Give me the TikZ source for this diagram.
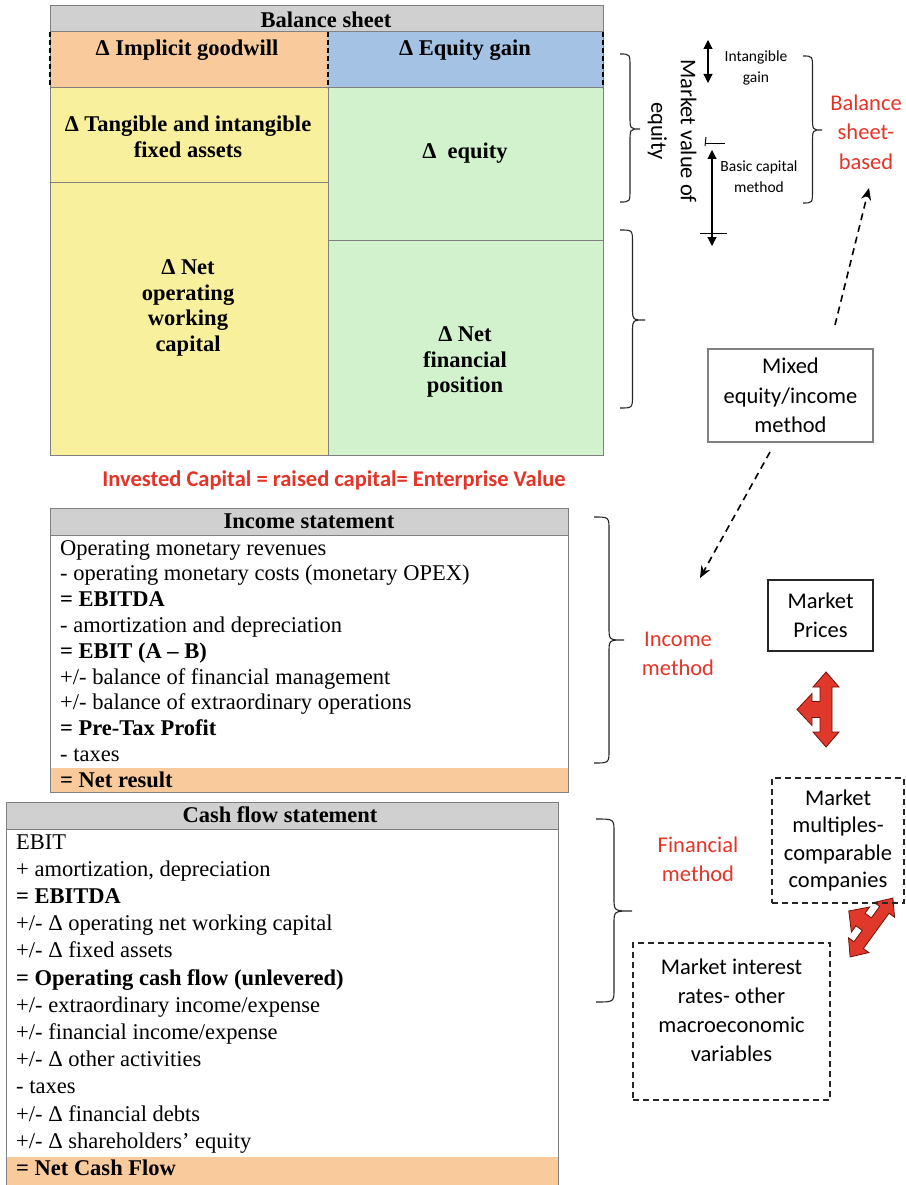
\documentclass[tikz,border=0pt]{standalone}
\usepackage{fontspec}
\setmainfont{Liberation Serif}
\newfontfamily\calib{Carlito}
\usetikzlibrary{arrows.meta}
\definecolor{hdrgray}{RGB}{208,208,208}
\definecolor{edgegray}{RGB}{128,128,128}
\definecolor{borange}{RGB}{249,203,156}
\definecolor{bblue}{RGB}{164,194,228}
\definecolor{byellow}{RGB}{248,240,156}
\definecolor{bgreen}{RGB}{210,242,206}
\definecolor{myred}{RGB}{228,52,40}
\definecolor{arrred}{RGB}{224,56,42}
\definecolor{arredge}{RGB}{110,20,10}
\newcommand\mybrace[5]{%
  \draw[bracestyle] (#1,#2) .. controls (#1+#5*0.5,#2) and (#1+#5*0.5,#2) .. (#1+#5*0.5,#2+13)
    -- (#1+#5*0.5,#4-13) .. controls (#1+#5*0.5,#4) and (#1+#5*0.5,#4) .. (#1+#5,#4)
    .. controls (#1+#5*0.5,#4) and (#1+#5*0.5,#4) .. (#1+#5*0.5,#4+13)
    -- (#1+#5*0.5,#3-13) .. controls (#1+#5*0.5,#3) and (#1+#5*0.5,#3) .. (#1,#3);}
\begin{document}
\begin{tikzpicture}[x=1pt,y=-1pt,
  line/.style={font=\fontsize{22.5}{25.8}\selectfont, inner sep=0pt, anchor=base west},
  bline/.style={line, font=\fontsize{22.5}{25.8}\selectfont\bfseries},
  cell/.style={font=\fontsize{22.5}{25.8}\selectfont\bfseries, align=center, inner sep=0pt},
  lab/.style={font=\calib\fontsize{22.5}{29.5}\selectfont, align=center, inner sep=0pt},
  smalllab/.style={font=\calib\fontsize{15.5}{21}\selectfont, align=center, inner sep=0pt},
  redlab/.style={lab, text=myred},
  border/.style={draw=edgegray, line width=1pt},
  cutedge/.style={draw=black, line width=2.4pt, dash pattern=on 5pt off 3pt},
  bracestyle/.style={draw=black!85, line width=1.1pt},
  dasharrow/.style={draw=black, line width=1.6pt, dash pattern=on 7pt off 5pt, -{Stealth[length=12pt,width=10pt]}},
  dbl/.style={draw=black, line width=1.1pt, {Triangle[length=9pt,width=9pt]}-{Triangle[length=9pt,width=9pt]}},
  dbox/.style={draw=black!85, line width=1.3pt, dash pattern=on 6pt off 4pt},
  redshape/.style={fill=arrred, draw=arredge, line width=0.8pt, line join=miter}
]
\useasboundingbox (0,0) rectangle (905,1185);

% ---------------- Balance sheet ----------------
\fill[hdrgray] (50,6) rectangle (603,32);
\fill[borange] (50,32) rectangle (328,88);
\fill[bblue] (328,32) rectangle (603,88);
\fill[byellow] (50,88) rectangle (328,455);
\fill[bgreen] (328,88) rectangle (603,455);
\draw[border] (50,6) rectangle (603,455);
\draw[border] (50,32) -- (603,32);
\draw[border] (50,88) -- (603,88);
\draw[border] (328,88) -- (328,455);
\draw[border] (50,183) -- (328,183);
\draw[border] (328,240) -- (603,240);
\draw[cutedge] (50,32) -- (50,88);
\draw[cutedge] (328,32) -- (328,88);
\draw[cutedge] (603,32) -- (603,88);

\node[cell] (bs) at (326,20) {Balance sheet};
\node[cell] (gw) at (187,50) {Δ Implicit goodwill};
\node[cell] (eg) at (465,50) {Δ Equity gain};
\node[cell] (tfa) at (188,137) {Δ Tangible and intangible\\fixed assets};
\node[cell] (eq) at (465,153) {Δ\ \ equity};
\node[cell] (nwc) at (188,308) {Δ Net\\operating\\working\\capital};
\node[cell] (nfp) at (465,362) {Δ Net\\financial\\position};

% braces beside balance sheet
\mybrace{620}{54}{202}{129}{20}
\mybrace{620}{230}{408}{320}{25}
\mybrace{803}{56}{203}{130}{19}

\node[lab, rotate=-90] (mve) at (672,131) {Market value of\\equity};
\draw[dbl] (708,40) -- (708,83);
\draw[dbl] (712,150) -- (712,246);
\draw[black, line width=1pt] (706,137) -- (705,146);
\draw[black, line width=1pt] (705,144) -- (725,144);
\draw[black, line width=1pt] (700,233) -- (727,233);
\node[smalllab] (ig) at (756,68) {Intangible\\gain};
\node[smalllab] (bcm) at (759,177) {Basic capital\\method};
\node[redlab] (bsb) at (866,132) {Balance\\sheet-\\based};

\node[lab, draw=edgegray, line width=1.2pt, minimum width=165pt, minimum height=93pt] (mixed) at (790.5,395.5) {Mixed\\equity/income\\method};
\coordinate (d1s) at (835,325);
\coordinate (d1e) at (869,188);
\draw[dasharrow] (d1s) -- (d1e);
\coordinate (d2s) at (770,452);
\coordinate (d2e) at (700,578);
\draw[dasharrow] (d2s) -- (d2e);

\node[font=\calib\bfseries\fontsize{22.5}{26}\selectfont, text=myred, inner sep=0pt] (ic) at (334,480) {Invested Capital = raised capital= Enterprise Value};

% ---------------- Income statement ----------------
\fill[hdrgray] (50,508) rectangle (568,535);
\fill[white] (50,535) rectangle (568,768);
\fill[borange] (50,768) rectangle (568,792);
\draw[border] (50,508) rectangle (568,792);
\draw[border] (50,535) -- (568,535);
\node[cell] (ist) at (309,521) {Income statement};
\node[line]  (i1)  at (60,555)   {Operating monetary revenues};
\node[line]  (i2)  at (60,580.8) {- operating monetary costs (monetary OPEX)};
\node[bline] (i3)  at (60,606.6) {= EBITDA};
\node[line]  (i4)  at (60,632.4) {- amortization and depreciation};
\node[bline] (i5)  at (60,658.2) {= EBIT (A -- B)};
\node[line]  (i6)  at (60,684)   {+/- balance of financial management};
\node[line]  (i7)  at (60,709.8) {+/- balance of extraordinary operations};
\node[bline] (i8)  at (60,735.6) {= Pre-Tax Profit};
\node[line]  (i9)  at (60,761.4) {- taxes};
\node[bline] (i10) at (60,787.2) {= Net result};

\mybrace{594}{517}{763}{640}{30}
\node[redlab] (im) at (678,654) {Income\\method};

% market prices and red arrows
\node[lab, draw=black!85, line width=1.4pt, minimum width=105pt, minimum height=71pt] (mp) at (820.5,615.5) {Market\\Prices};
\begin{scope}[shift={(826,709.5)}]
\path[redshape] (0,-37.5) -- (13,-22.5) -- (6,-22.5) -- (6,22.5) -- (13,22.5) -- (0,37.5)
  -- (-13,22.5) -- (-6,22.5) -- (-6,8) -- (-14,8) -- (-14,16) -- (-29,0) -- (-14,-16)
  -- (-14,-8) -- (-6,-8) -- (-6,-22.5) -- (-13,-22.5) -- cycle;
\end{scope}
\begin{scope}[shift={(871.5,927.5)}, rotate=-36, scale=0.97]
\path[redshape] (0,-37.5) -- (13,-22.5) -- (6,-22.5) -- (6,22.5) -- (13,22.5) -- (0,37.5)
  -- (-13,22.5) -- (-6,22.5) -- (-6,8) -- (-14,8) -- (-14,16) -- (-29,0) -- (-14,-16)
  -- (-14,-8) -- (-6,-8) -- (-6,-22.5) -- (-13,-22.5) -- cycle;
\end{scope}

\node[lab, dbox, minimum width=132pt, minimum height=125pt, font=\calib\fontsize{22.5}{27.4}\selectfont] (mm) at (838,840.5) {Market\\multiples-\\comparable\\companies};
\node[dbox, minimum width=197pt, minimum height=157pt, inner sep=0pt] (mir) at (731.5,1021.5) {};
\node[lab, font=\calib\fontsize{22.5}{29}\selectfont] (mirt) at (731.5,1010.5) {Market interest\\rates- other\\macroeconomic\\variables};

% ---------------- Cash flow statement ----------------
\fill[hdrgray] (6,802) rectangle (558,829);
\fill[white] (6,829) rectangle (558,1157);
\fill[borange] (6,1157) rectangle (558,1185);
\draw[border] (6,1186) -- (6,802) -- (558,802) -- (558,1186);
\draw[border] (6,829) -- (558,829);
\node[cell] (cft) at (280,815) {Cash flow statement};
\node[line]  (c1)  at (16,849)    {EBIT};
\node[line]  (c2)  at (16,876.2)  {+ amortization, depreciation};
\node[bline] (c3)  at (16,903.4)  {= EBITDA};
\node[line]  (c4)  at (16,930.6)  {+/- Δ operating net working capital};
\node[line]  (c5)  at (16,957.8)  {+/- Δ fixed assets};
\node[bline] (c6)  at (16,985)    {= Operating cash flow (unlevered)};
\node[line]  (c7)  at (16,1012.2) {+/- extraordinary income/expense};
\node[line]  (c8)  at (16,1039.4) {+/- financial income/expense};
\node[line]  (c9)  at (16,1066.6) {+/- Δ other activities};
\node[line]  (c10) at (16,1093.8) {- taxes};
\node[line]  (c11) at (16,1121)   {+/- Δ financial debts};
\node[line]  (c12) at (16,1148.2) {+/- Δ shareholders’ equity};
\node[bline] (c13) at (16,1175.4) {= Net Cash Flow};

\mybrace{596}{819}{1002}{911}{36}
\node[redlab] (fm) at (698,859.5) {Financial\\method};
\end{tikzpicture}
\end{document}
